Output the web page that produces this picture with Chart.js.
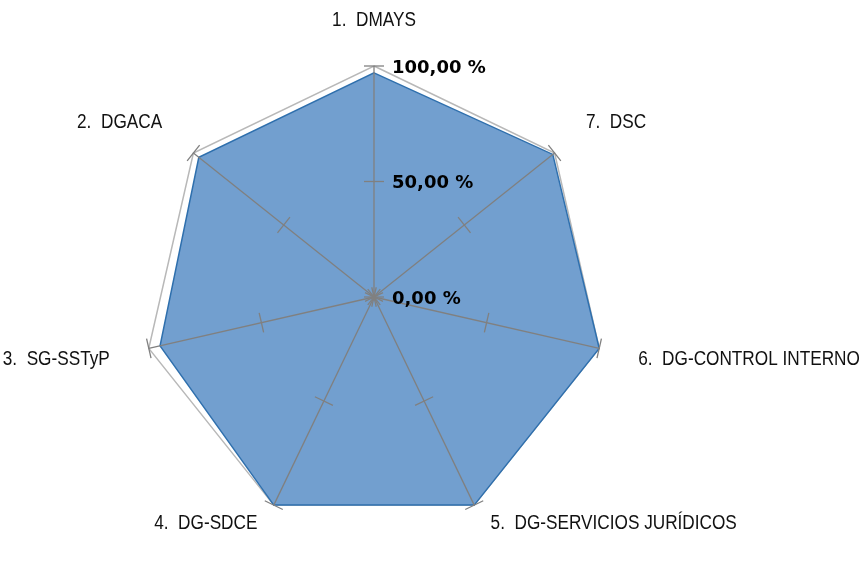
<!DOCTYPE html>
<html>
<head>
<meta charset="utf-8">
<script src="https://cdn.jsdelivr.net/npm/chart.js@4.4.1/dist/chart.umd.min.js"></script>
<style>
  body { margin: 0; background: #fff; }
  #wrap { width: 859px; height: 562px; }
</style>
</head>
<body>
<div id="wrap"><canvas id="radarChart" width="859" height="562"></canvas></div>
<script>
// Data
const categories = ["1.  DMAYS", "2.  DGACA", "3.  SG-SSTyP", "4.  DG-SDCE",
    "5.  DG-SERVICIOS JURÍDICOS", "6.  DG-CONTROL INTERNO", "7.  DSC"];
const compliance = [97, 97, 95, 100, 100, 100, 99];
const tickValues = [0, 50, 100];
const tickLabels = ["0,00 %", "50,00 %", "100,00 %"];

// the picture goes counter-clockwise from the top, chart.js goes clockwise
const order = [0, 6, 5, 4, 3, 2, 1];
const labels = order.map(i => categories[i]);
const values = order.map(i => compliance[i]);

const labelFont = "20px 'Liberation Sans', Arial, sans-serif";
const tickFont = "bold 18px 'DejaVu Sans', Verdana, sans-serif";
const narrow = 0.86; // no condensed font installed, squeeze the labels

// write text squeezed horizontally, aligned like fillText would
function narrowText(ctx, text, x, y, align) {
    const w = ctx.measureText(text).width * narrow;
    let left = x;
    if (align === 'center') left = x - w / 2;
    else if (align === 'right') left = x - w;
    ctx.save();
    ctx.translate(left, y);
    ctx.scale(narrow, 1);
    ctx.textAlign = 'left';
    ctx.fillText(text, 0, 0);
    ctx.restore();
}

// spokes, tick marks and all texts are drawn over the filled area
const overlay = {
    id: 'overlay',
    afterDatasetsDraw(chart) {
        const r = chart.scales.r;
        const ctx = chart.ctx;
        const n = chart.data.labels.length;
        ctx.save();
        ctx.strokeStyle = '#808080';
        ctx.lineWidth = 1.3;
        for (let i = 0; i < n; i++) {
            const end = r.getPointPositionForValue(i, r.max);
            ctx.beginPath();
            ctx.moveTo(r.xCenter, r.yCenter);
            ctx.lineTo(end.x, end.y);
            ctx.stroke();
            tickValues.forEach(v => {
                const p = r.getPointPositionForValue(i, v);
                const px = -Math.sin(p.angle) * 10;
                const py = Math.cos(p.angle) * 10;
                ctx.beginPath();
                ctx.moveTo(p.x - px, p.y - py);
                ctx.lineTo(p.x + px, p.y + py);
                ctx.stroke();
            });
        }

        // value labels next to the vertical axis
        ctx.fillStyle = '#000';
        ctx.font = tickFont;
        ctx.textAlign = 'left';
        ctx.textBaseline = 'alphabetic';
        tickValues.forEach((v, k) => {
            const y = r.yCenter - r.getDistanceFromCenterForValue(v);
            ctx.fillText(tickLabels[k], r.xCenter + 18, y + 6.5);
        });

        // category labels
        ctx.font = labelFont;
        ctx.fillStyle = '#111';
        const cap = 14.4;
        for (let i = 0; i < n; i++) {
            const a = r.getPointPosition(i, 1).angle;
            const dx = Math.cos(a), dy = Math.sin(a);
            const bottom = dy > 0.5;
            const p = r.getPointPosition(i, r.drawingArea + (bottom ? 10 : 40));
            const align = Math.abs(dx) < 0.1 ? 'center' : (dx > 0 ? 'left' : 'right');
            let x = p.x;
            if (bottom) x += Math.sign(dx) * 12;
            let y = p.y;
            if (Math.abs(dy) < 0.4) y += cap / 2;
            else if (dy > 0) y += cap;
            narrowText(ctx, chart.data.labels[i], x, y, align);
        }
        ctx.restore();
    }
};

const ctx = document.getElementById('radarChart').getContext('2d');
const radarChart = new Chart(ctx, {
    type: 'radar',
    data: {
        labels: labels,
        datasets: [{
            label: 'Cumplimiento',
            data: values,
            backgroundColor: '#729fcf',
            borderColor: '#2e6fad',
            borderWidth: 1.5,
            pointRadius: 0,
            fill: true
        }]
    },
    options: {
        responsive: false,
        animation: false,
        layout: {
            padding: { left: 143, right: 254, top: 66, bottom: 34 }
        },
        plugins: {
            legend: { display: false },
            tooltip: { enabled: false }
        },
        scales: {
            r: {
                min: 0,
                max: 100,
                ticks: { stepSize: 50, display: false },
                pointLabels: { display: false },
                angleLines: { display: false },
                grid: {
                    color: c => (c.tick && c.tick.value === 100) ? '#b8b8b8' : 'rgba(0,0,0,0)',
                    lineWidth: 1.5
                }
            }
        }
    },
    plugins: [overlay]
});
</script>
</body>
</html>
